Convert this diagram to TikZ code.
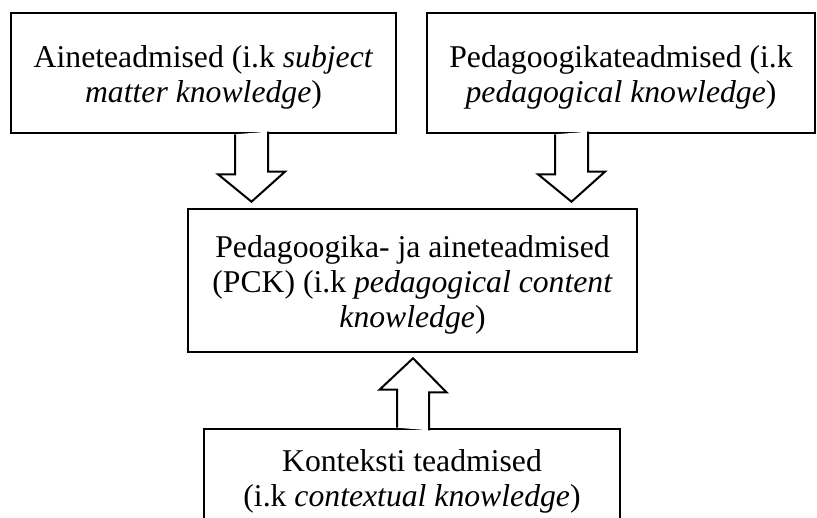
\documentclass[tikz,border=0pt]{standalone}
\usepackage{fontspec}
\setmainfont{Liberation Serif}
\usetikzlibrary{calc}
\newcommand{\topgap}{\rule{0pt}{30pt}}

\begin{document}
\begin{tikzpicture}[x=1pt,y=-1pt]
    \tikzstyle{box}=[draw=black,line width=2.6pt,align=center,inner sep=0pt,
      font=\fontsize{31.7}{35}\selectfont]
    \tikzstyle{hollow}=[draw=black,fill=white,line width=2pt,line join=miter]
    \useasboundingbox (0,0) rectangle (817,518);
    \node[box,minimum width=385,minimum height=120] (aine) at (203.5,73)
      {\topgap Aineteadmised (i.k \textit{subject}\\ \textit{matter knowledge})};
    \node[box,minimum width=388,minimum height=120] (ped) at (621,73)
      {\topgap Pedagoogikateadmised (i.k\\ \textit{pedagogical knowledge})};
    \node[box,minimum width=449,minimum height=143] (pck) at (412.5,280.5)
      {\topgap Pedagoogika- ja aineteadmised\\ (PCK) (i.k \textit{pedagogical content}\\ \textit{knowledge})};
    \node[box,minimum width=416,minimum height=104] (kont) at (412,481)
      {Konteksti teadmised\\ (i.k \textit{contextual knowledge})};
    % block arrows
    \coordinate (s1) at ($(aine.south)+(48,0)$);
    \coordinate (t1) at ($(s1 |- pck.north)+(0,-6)$);
    \filldraw[hollow] (s1) ++(-16.5,0) -- ++(0,40) -- ++(-17,0) -- (t1)
      -- ++(33.5,-30) -- ++(-17,0) -- ++(0,-40);
    \coordinate (s2) at ($(ped.south)+(-49.5,0)$);
    \coordinate (t2) at ($(s2 |- pck.north)+(0,-6)$);
    \filldraw[hollow] (s2) ++(-16.5,0) -- ++(0,40) -- ++(-17,0) -- (t2)
      -- ++(33.5,-30) -- ++(-17,0) -- ++(0,-40);
    \coordinate (s3) at ($(kont.north)+(1,0)$);
    \coordinate (t3) at ($(s3 |- pck.south)+(0,5)$);
    \filldraw[hollow] (s3) ++(-16,0) -- ++(0,-38) -- ++(-17.5,0) -- (t3)
      -- ++(33.5,34) -- ++(-17.5,0) -- ++(0,38);
\end{tikzpicture}
\end{document}
